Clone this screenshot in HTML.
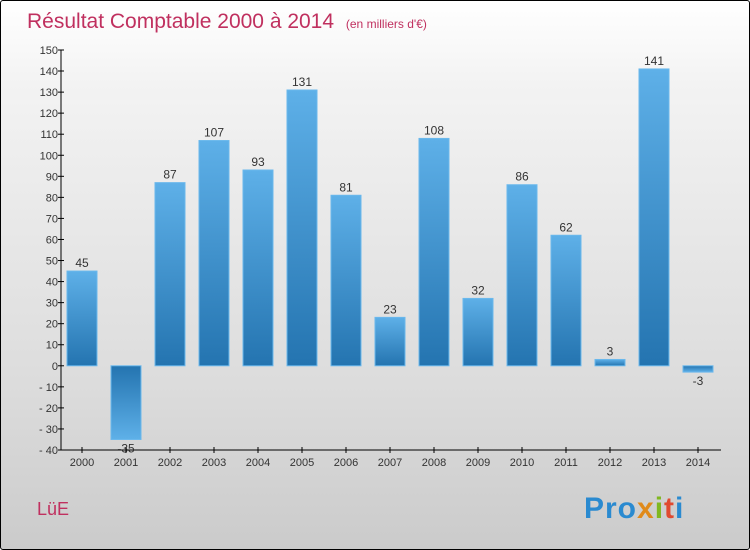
<!DOCTYPE html>
<html><head><meta charset="utf-8"><style>
body{margin:0;}
#wrap{position:relative;width:748px;height:548px;border:1px solid #000;background:linear-gradient(#fff,#f3f3f3 15%,#dcdcdc 70%,#cbcbcb);font-family:"Liberation Sans",sans-serif;overflow:hidden;border-radius:3px}
</style></head><body>
<div id="wrap">
<svg id="svg" width="748" height="548">
<text x="26" y="27" font-size="21" fill="#c0305f">Résultat Comptable 2000 à 2014 <tspan font-size="12" dx="6">(en milliers d'€)</tspan></text>
<text x="36" y="514" font-size="18" fill="#c0305f">LüE</text>
<g font-size="30" font-weight="bold">
<text x="583" y="517" letter-spacing="1"><tspan fill="#2a8ad0">Pro</tspan><tspan fill="#e08a1a">x</tspan><tspan fill="#80b820">i</tspan><tspan fill="#e04a30">t</tspan><tspan fill="#2a8ad0">i</tspan></text>
</g>
<defs>
<linearGradient id="gp" x1="0" y1="0" x2="0" y2="1"><stop offset="0" stop-color="#5eb0e8"/><stop offset="1" stop-color="#2474b0"/></linearGradient>
<linearGradient id="gn" x1="0" y1="0" x2="0" y2="1"><stop offset="0" stop-color="#2474b0"/><stop offset="1" stop-color="#5eb0e8"/></linearGradient>
</defs>
<g id="g"></g>
</svg>
</div>
<script>
const years=["2000","2001","2002","2003","2004","2005","2006","2007","2008","2009","2010","2011","2012","2013","2014"];
const values=[45,-35,87,107,93,131,81,23,108,32,86,62,3,141,-3];
const ticks=[150,140,130,120,110,100,90,80,70,60,50,40,30,20,10,0,-10,-20,-30,-40];
const NS="http://www.w3.org/2000/svg";
const g=document.getElementById('g');
const x0=60,yTop=49,yBot=449,vmax=150,vmin=-40;
const y=v=>yTop+(vmax-v)*(yBot-yTop)/(vmax-vmin);
const xc=i=>81+i*44;
function el(t,a){const e=document.createElementNS(NS,t);for(const k in a)e.setAttribute(k,a[k]);g.appendChild(e);return e;}
let ax=el('line',{x1:x0,y1:yTop,x2:x0,y2:yBot,stroke:'#000'});

let bx=el('line',{x1:x0,y1:yBot,x2:720,y2:yBot,stroke:'#000'});

ticks.forEach(t=>{
 let l=el('line',{x1:x0-3,y1:y(t),x2:x0+3,y2:y(t),stroke:'#000'});
 
 let tx=el('text',{x:x0-3,y:y(t)+4,'text-anchor':'end','font-size':11,fill:'#333'});
 tx.textContent=t<0?'- '+(-t):t;
 
});
years.forEach((yr,i)=>{
 const v=values[i],c=xc(i);
 let r=el('rect',{x:c-15,y:Math.min(y(v),y(0)),width:30,height:Math.abs(y(v)-y(0)),fill:v>=0?'url(#gp)':'url(#gn)',stroke:'#6ab8ec','stroke-width':1});
 
 let vl=el('text',{x:c,y:v>=0?y(v)-4:y(v)+13,'text-anchor':'middle','font-size':12,fill:'#333'});
 vl.textContent=v;
 
 let tk=el('line',{x1:c,y1:yBot-3,x2:c,y2:yBot+3,stroke:'#000'});
 
 let xl=el('text',{x:c,y:yBot+16,'text-anchor':'middle','font-size':11,fill:'#333'});
 xl.textContent=yr;
 
});
</script>
</body></html>
